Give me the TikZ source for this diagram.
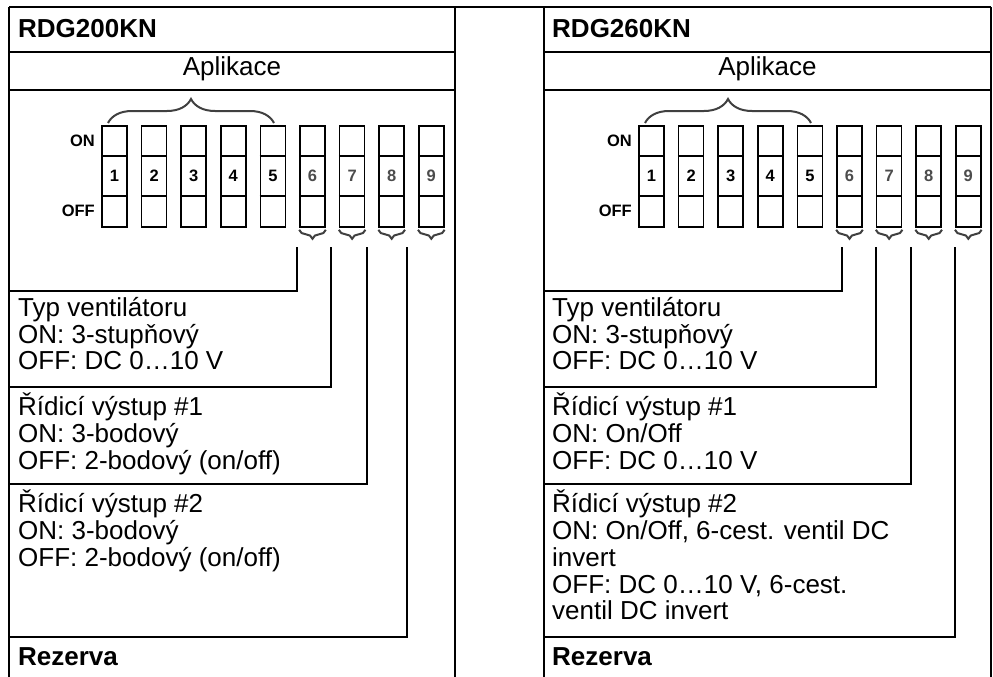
\documentclass[tikz,border=0pt]{standalone}
\usepackage{fontspec}
\setmainfont{Liberation Sans}
\usetikzlibrary{positioning,decorations.pathreplacing}

\begin{document}
\begin{tikzpicture}[x=1pt, y=-1pt]
    \tikzstyle{frame} = [line width=2.3pt]
    \tikzstyle{switchbox} = [rectangle, draw=black, line width=1.6pt, minimum width=25pt,
        minimum height=101pt, inner sep=0pt]
    \tikzstyle{num} = [font=\fontsize{16.5}{18}\selectfont\bfseries, inner sep=0pt]
    \tikzstyle{title} = [font=\fontsize{26}{30}\selectfont\bfseries, anchor=base west, inner sep=0pt]
    \tikzstyle{desc} = [font=\fontsize{26}{26.7}\selectfont, anchor=north west, align=left,
        inner sep=0pt, execute at begin node=\rule{0pt}{24pt}]
    \tikzstyle{brace} = [decorate, draw=black!75, line width=2pt]

    \useasboundingbox (0,0) rectangle (993,677);
    \draw [frame] (9,7) -- (991,7);

    % two panels: frame, switches, braces
    \foreach \p/\xa/\xb/\sx in {l/9/455/114.5, r/544/991/651.5} {
        \draw [frame] (\xa,7) -- (\xa,677);
        \draw [frame] (\xb,7) -- (\xb,677);
        \draw [frame] (\xa,52) -- (\xb,52);
        \draw [frame] (\xa,90) -- (\xb,90);
        \foreach \i/\c in {1/black, 2/black, 3/black, 4/black, 5/black,
                6/black!70, 7/black!70, 8/black!70, 9/black!70} {
            \pgfmathsetmacro{\cx}{\sx+39.6*(\i-1)}
            \node (\p-sw\i) [switchbox] at (\cx,176.5) {};
            \draw [line width=1.6pt] (\p-sw\i.west |- 0,156) -- (\p-sw\i.east |- 0,156);
            \draw [line width=1.6pt] (\p-sw\i.west |- 0,196) -- (\p-sw\i.east |- 0,196);
            \node (\p-num\i) [num, text=\c] at (\cx,176) {\i};
        }
        \foreach \i in {6,...,9}
            \draw [brace, decoration={brace, mirror, amplitude=9pt}]
                ([yshift=-2pt]\p-sw\i.south west) -- ([yshift=-2pt]\p-sw\i.south east);
    }

    % left panel
    \node (l-head) [title] at (18,38) {RDG200KN};
    \node (l-app) [font=\fontsize{26}{30}\selectfont, anchor=base, inner sep=0pt] at (232,76) {Aplikace};
    \node (l-on) [num, anchor=east] at (95,141) {ON};
    \node (l-off) [num, anchor=east] at (95,211) {OFF};
    \draw [brace, decoration={brace, amplitude=24pt}] (108,123) -- (274,123);

    \node (l-fan) [desc] at (18,297) {Typ ventilátoru\\ON: 3-stupňový\\OFF: DC 0…10 V};
    \node (l-out1) [desc] at (18,393) {Řídicí výstup \#1\\ON: 3-bodový\\OFF: 2-bodový (on/off)};
    \node (l-out2) [desc] at (18,490) {Řídicí výstup \#2\\ON: 3-bodový\\OFF: 2-bodový (on/off)};
    \node (l-res) [title] at (18,665) {Rezerva};

    \coordinate (l-c6) at (297,247);
    \coordinate (l-c7) at (331,247);
    \coordinate (l-c8) at (367,247);
    \coordinate (l-c9) at (407,247);
    \coordinate (l-b6) at (9,291);
    \coordinate (l-b7) at (9,387);
    \coordinate (l-b8) at (9,484);
    \coordinate (l-b9) at (9,637);

    % right panel
    \node (r-head) [title] at (552,38) {RDG260KN};
    \node (r-app) [font=\fontsize{26}{30}\selectfont, anchor=base, inner sep=0pt] at (767.5,76) {Aplikace};
    \node (r-on) [num, anchor=east] at (632,141) {ON};
    \node (r-off) [num, anchor=east] at (632,211) {OFF};
    \draw [brace, decoration={brace, amplitude=24pt}] (645,123) -- (811,123);

    \node (r-fan) [desc] at (552,297) {Typ ventilátoru\\ON: 3-stupňový\\OFF: DC 0…10 V};
    \node (r-out1) [desc] at (552,393) {Řídicí výstup \#1\\ON: On/Off\\OFF: DC 0…10 V};
    \node (r-out2) [desc] at (552,490) {Řídicí výstup \#2\\ON: On/Off, 6-cest. ventil DC\\invert\\OFF: DC 0…10 V, 6-cest.\\ventil DC invert};
    \node (r-res) [title] at (552,665) {Rezerva};

    \coordinate (r-c6) at (842,247);
    \coordinate (r-c7) at (876,247);
    \coordinate (r-c8) at (911,247);
    \coordinate (r-c9) at (955,247);
    \coordinate (r-b6) at (544,291);
    \coordinate (r-b7) at (544,387);
    \coordinate (r-b8) at (544,484);
    \coordinate (r-b9) at (544,637);

    \foreach \p in {l,r}
        \foreach \i in {6,...,9}
            \draw [frame] (\p-c\i) |- (\p-b\i);
\end{tikzpicture}
\end{document}
